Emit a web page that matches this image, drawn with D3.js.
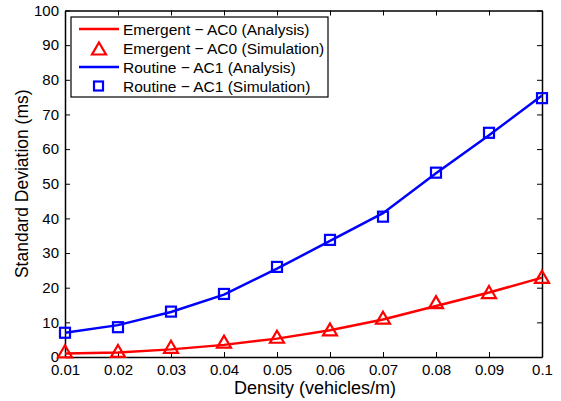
<!DOCTYPE html>
<html>
<head>
<meta charset="utf-8">
<script src="https://cdn.jsdelivr.net/npm/d3@7.9.0/dist/d3.min.js"></script>
<style>
  html, body { margin: 0; padding: 0; background: #fff; }
  svg { display: block; font-family: "Liberation Sans", Arial, Helvetica, sans-serif; }
</style>
</head>
<body>
<svg id="chart" width="561" height="401"></svg>
<script>
// values
const density = [0.01, 0.02, 0.03, 0.04, 0.05, 0.06, 0.07, 0.08, 0.09, 0.1];
const emergentAnalysis = [1.0, 1.3, 2.2, 3.5, 5.3, 7.7, 10.8, 14.7, 18.6, 22.9];
const emergentSim = [1.5, 1.6, 2.8, 4.3, 5.7, 7.8, 11.2, 15.7, 18.6, 23.0];
const routineAnalysis = [7.0, 9.2, 13.0, 18.0, 25.5, 33.5, 41.5, 53.0, 64.0, 75.5];
const routineSim = [7.0, 8.6, 13.1, 18.2, 26.0, 33.8, 40.5, 53.2, 64.7, 74.7];
const xTicks = [0.01, 0.02, 0.03, 0.04, 0.05, 0.06, 0.07, 0.08, 0.09, 0.1];
const xTickLabels = ['0.01', '0.02', '0.03', '0.04', '0.05', '0.06', '0.07', '0.08', '0.09', '0.1'];
const yTicks = [0, 10, 20, 30, 40, 50, 60, 70, 80, 90, 100];
const legendLabels = [
  'Emergent \u2212 AC0 (Analysis)',
  'Emergent \u2212 AC0 (Simulation)',
  'Routine \u2212 AC1 (Analysis)',
  'Routine \u2212 AC1 (Simulation)'
];

const RED = '#ff0000';
const BLUE = '#0000ff';

const margin = { left: 65, right: 19, top: 10.5, bottom: 44 };
const width = 561, height = 401;
const svg = d3.select('#chart');

const x = d3.scaleLinear().domain([0.01, 0.1]).range([margin.left, width - margin.right]);
const y = d3.scaleLinear().domain([0, 100]).range([height - margin.bottom, margin.top]);

const tickLen = 5;
const g = svg.append('g');

// axes (MATLAB style: ticks inside, box on)
const xAxisBottom = d3.axisBottom(x).tickValues(xTicks).tickSizeInner(-tickLen).tickSizeOuter(0)
  .tickPadding(7.5).tickFormat((d, i) => xTickLabels[i]);
const xAxisTop = d3.axisTop(x).tickValues(xTicks).tickSizeInner(-tickLen).tickSizeOuter(0).tickFormat('');
const yAxisLeft = d3.axisLeft(y).tickValues(yTicks).tickSizeInner(-tickLen).tickSizeOuter(0).tickPadding(6);
const yAxisRight = d3.axisRight(y).tickValues(yTicks).tickSizeInner(-tickLen).tickSizeOuter(0).tickFormat('');

function styleAxis(sel) {
  sel.select('.domain').attr('stroke', '#000').attr('stroke-width', 1.5);
  sel.selectAll('.tick line').attr('stroke', '#000').attr('stroke-width', 1);
  sel.selectAll('.tick text').attr('font-size', 15).attr('fill', '#000')
    .attr('font-family', '"Liberation Sans", Arial, sans-serif');
}

g.append('g').attr('transform', `translate(0,${y(0)})`).call(xAxisBottom).call(styleAxis);
g.append('g').attr('transform', `translate(0,${y(100)})`).call(xAxisTop).call(styleAxis);
g.append('g').attr('transform', `translate(${x(0.01)},0)`).call(yAxisLeft).call(styleAxis);
g.append('g').attr('transform', `translate(${x(0.1)},0)`).call(yAxisRight).call(styleAxis);

// axis labels
svg.append('text')
  .attr('x', 315)
  .attr('y', 394)
  .attr('text-anchor', 'middle')
  .attr('font-size', 18)
  .text('Density (vehicles/m)');

svg.append('text')
  .attr('transform', `translate(28,${(y(0) + y(100)) / 2}) rotate(-90)`)
  .attr('text-anchor', 'middle')
  .attr('font-size', 17.5)
  .text('Standard Deviation (ms)');

// series
const line = d3.line().x(d => x(d[0])).y(d => y(d[1]));
const triPath = 'M0,-6.5L7,5.5L-7,5.5Z';

function drawLine(vals, color) {
  svg.append('path')
    .datum(density.map((d, i) => [d, vals[i]]))
    .attr('d', line)
    .attr('fill', 'none')
    .attr('stroke', color)
    .attr('stroke-width', 2.5);
}

drawLine(emergentAnalysis, RED);
drawLine(routineAnalysis, BLUE);

svg.append('g').selectAll('path')
  .data(density.map((d, i) => [d, emergentSim[i]]))
  .join('path')
  .attr('transform', d => `translate(${x(d[0])},${y(d[1])})`)
  .attr('d', triPath)
  .attr('fill', 'none')
  .attr('stroke', RED)
  .attr('stroke-width', 2.2);

svg.append('g').selectAll('rect')
  .data(density.map((d, i) => [d, routineSim[i]]))
  .join('rect')
  .attr('x', d => x(d[0]) - 5)
  .attr('y', d => y(d[1]) - 5)
  .attr('width', 10)
  .attr('height', 10)
  .attr('fill', 'none')
  .attr('stroke', BLUE)
  .attr('stroke-width', 2.2);

// legend
const legend = svg.append('g').attr('transform', 'translate(71,17)');
legend.append('rect')
  .attr('width', 257).attr('height', 80)
  .attr('fill', '#fff').attr('stroke', '#000').attr('stroke-width', 1.2);

const rowY = [12, 31, 50, 69];
legendLabels.forEach((label, i) => {
  const row = legend.append('g').attr('transform', `translate(0,${rowY[i]})`);
  const color = i < 2 ? RED : BLUE;
  if (i % 2 === 0) {
    row.append('line').attr('x1', 8).attr('x2', 48).attr('stroke', color).attr('stroke-width', 2.5);
  } else if (i === 1) {
    row.append('path').attr('transform', 'translate(28,1)').attr('d', triPath)
      .attr('fill', 'none').attr('stroke', color).attr('stroke-width', 2.2);
  } else {
    row.append('rect').attr('x', 23).attr('y', -4.5).attr('width', 9).attr('height', 9)
      .attr('fill', 'none').attr('stroke', color).attr('stroke-width', 2.2);
  }
  row.append('text').attr('x', 52).attr('y', 5.5).attr('font-size', 15.5).text(label);
});
</script>
</body>
</html>
